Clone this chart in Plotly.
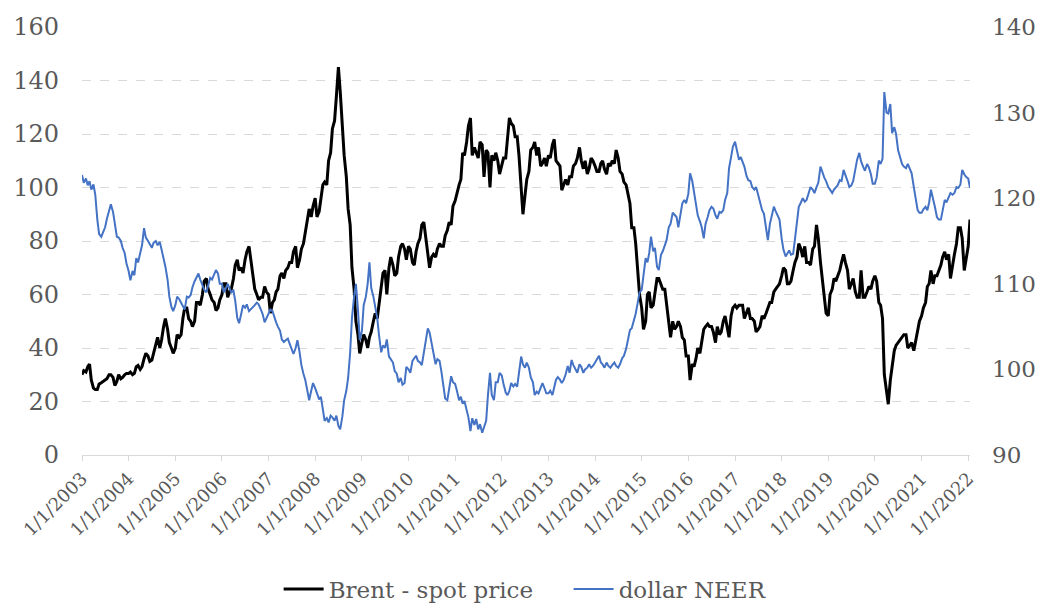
import plotly.graph_objects as go
from plotly.subplots import make_subplots
import pandas as pd

# semi-monthly readings (1st and 15th), Jan 2003 - Jan 2022
dates = pd.date_range("2003-01-01", "2022-01-15", freq="SMS")

brent = [
    30, 31.5, 31, 33, 34, 28, 25, 24.5, 24.5, 26.5, 27, 27.5, 28, 28.5, 30, 30, 29, 26, 27.5, 30, 28.5, 29, 30, 30.5,
    30.5, 31, 30, 30.5, 33, 33.5, 32, 33, 36, 38, 37, 35, 35.5, 38.5, 42, 44, 40, 43, 48, 51, 47, 42, 40, 38,
    40, 45, 44, 45, 51, 55, 55, 51, 50, 48, 50, 57, 57, 56, 60, 65, 66, 62, 60, 58, 57, 54, 55, 58,
    60, 64, 64, 59, 61, 62, 66, 71, 73, 69, 70, 68, 73, 76, 78, 73, 68, 62, 60, 58, 59, 59, 63, 61,
    60, 53, 57, 58, 61, 62, 67, 68, 66, 69, 70, 72, 72, 76, 78, 70, 73, 77, 79, 83, 88, 92, 89, 93,
    96, 89, 91, 96, 101, 102, 101, 110, 113, 122, 125, 134, 145, 136, 122, 112, 104, 92, 86, 70, 62, 50, 45, 38,
    42, 45, 43, 40, 44, 46, 50, 53, 51, 57, 62, 68, 69, 60, 70, 74, 71, 67, 68, 74, 78, 79, 77, 73,
    78, 77, 72, 71, 76, 79, 81, 86, 87, 82, 75, 70, 74, 75, 74, 77, 79, 78, 78, 82, 84, 87, 86, 93,
    95, 98, 101, 103, 113, 112, 117, 123, 126, 112, 115, 113, 111, 117, 116, 104, 114, 113, 100, 112, 110, 113, 110, 105,
    108, 111, 111, 118, 126, 124, 123, 119, 119, 112, 100, 90, 97, 103, 106, 114, 115, 117, 112, 115, 108, 109, 111, 108,
    112, 111, 116, 118, 110, 109, 108, 99, 101, 103, 101, 104, 104, 108, 109, 111, 115, 110, 107, 110, 105, 107, 111, 110,
    108, 106, 106, 109, 110, 107, 105, 109, 108, 110, 109, 114, 111, 106, 105, 102, 101, 97, 94, 85, 85, 79, 70, 60,
    55, 47, 50, 60, 61, 55, 56, 61, 66, 66, 64, 62, 62, 57, 51, 44, 50, 47, 48, 50, 48, 44, 43, 37,
    37, 28, 34, 33, 36, 40, 38, 43, 47, 48, 49, 48, 48, 46, 42, 48, 45, 46, 50, 52, 47, 44, 52, 55,
    56, 55, 56, 56, 56, 51, 53, 55, 51, 51, 50, 46, 47, 48, 52, 51, 53, 55, 57, 57, 61, 62, 63, 64,
    67, 70, 69, 64, 64, 65, 69, 72, 74, 79, 77, 74, 78, 72, 72, 71, 77, 78, 86, 81, 72, 66, 59, 53,
    52, 60, 62, 66, 65, 67, 69, 72, 75, 72, 69, 62, 64, 66, 61, 59, 59, 69, 59, 59, 61, 63, 62, 65,
    67, 65, 57, 56, 51, 30, 24, 19, 28, 34, 39, 41, 42, 43, 44, 45, 45, 40, 41, 42, 39, 43, 47, 50,
    52, 55, 57, 63, 64, 69, 64, 67, 67, 69, 71, 74, 76, 73, 75, 66, 72, 75, 79, 85, 85, 81, 69, 74,
    78, 88,
]

neer = [
    122.7, 121.8, 122.3, 121.5, 122.0, 121.0, 121.6, 120.4, 117.5, 115.8, 115.5, 116.0, 116.6, 117.6, 118.5, 119.3, 118.4, 116.8, 115.5, 115.4, 115.0, 114.2, 113.6, 112.4,
    111.5, 110.4, 111.5, 111.0, 113.0, 112.5, 113.8, 114.5, 116.5, 115.4, 115.0, 114.6, 114.2, 114.8, 115.0, 114.5, 114.9, 114.0, 113.0, 112.0, 110.5, 108.5, 107.3, 106.8,
    107.5, 108.5, 108.2, 107.8, 107.3, 107.0, 108.5, 108.4, 108.7, 109.6, 110.3, 110.8, 111.2, 110.5, 109.8, 109.3, 109.0, 109.8, 110.7, 110.5, 111.0, 111.6, 111.2, 110.0,
    110.0, 109.0, 109.5, 110.0, 109.5, 109.0, 109.2, 108.0, 106.0, 105.4, 106.5, 107.5, 107.2, 107.6, 106.8, 107.0, 107.3, 107.5, 107.8, 107.6, 107.0, 106.5, 105.5, 106.0,
    106.6, 107.0, 106.8, 106.0, 105.5, 105.0, 104.5, 103.5, 103.2, 103.4, 103.6, 103.0, 102.2, 101.8, 102.5, 103.4, 102.0, 100.5, 99.5, 98.8, 97.5, 96.4, 97.5, 98.4,
    97.8, 97.2, 96.5, 96.8, 95.2, 94.0, 94.3, 93.8, 94.6, 94.4, 94.0, 94.6, 93.4, 93.0, 94.5, 96.4, 97.5, 99.0, 102.0, 106.0, 108.5, 110.0, 107.0, 103.4,
    104.5, 107.5, 108.5, 110.0, 112.5, 109.5, 108.5, 107.5, 106.0, 104.0, 102.0, 102.8, 102.5, 103.5, 101.5, 101.2, 100.8, 99.8, 99.5, 98.5, 99.0, 98.2, 98.4, 100.3,
    100.0, 99.6, 101.0, 101.3, 101.6, 101.0, 100.8, 100.5, 102.0, 103.6, 104.8, 104.3, 103.0, 102.0, 100.6, 101.2, 101.0, 99.8, 98.0, 96.6, 96.4, 98.0, 99.2, 98.5,
    98.3, 97.5, 96.4, 96.8, 96.0, 96.3, 95.2, 94.4, 92.8, 94.3, 93.5, 94.2, 93.0, 93.6, 92.6, 93.2, 94.0, 97.0, 99.6, 97.0, 96.4, 98.5, 98.5, 99.6,
    99.3, 98.3, 97.3, 97.0, 97.5, 98.4, 98.0, 98.3, 98.0, 99.6, 101.5, 100.6, 100.2, 100.8, 100.2, 99.1, 98.5, 97.0, 97.4, 97.2, 98.0, 98.4, 97.8, 97.2,
    97.2, 97.5, 97.0, 97.8, 98.8, 99.1, 98.8, 98.4, 98.8, 99.4, 100.4, 99.6, 101.1, 100.5, 100.0, 99.6, 100.6, 100.3, 99.6, 100.0, 100.2, 100.6, 100.2, 100.4,
    100.8, 101.2, 101.6, 100.8, 100.6, 100.2, 100.8, 100.4, 100.2, 100.5, 100.8, 100.4, 100.2, 100.6, 101.3, 101.6, 102.4, 103.4, 104.6, 104.8, 105.8, 106.5, 107.8, 109.0,
    109.3, 111.0, 113.0, 112.5, 113.6, 115.5, 113.8, 114.2, 112.0, 111.6, 113.4, 113.8, 114.5, 115.1, 116.6, 117.0, 118.3, 118.0, 117.8, 116.6, 118.3, 119.4, 119.8, 119.4,
    120.5, 122.9, 122.0, 120.6, 119.5, 118.0, 117.3, 116.6, 115.3, 117.0, 117.8, 118.6, 119.0, 118.8, 118.0, 117.6, 118.4, 118.3, 118.6, 119.8, 120.6, 123.5, 124.8, 126.0,
    126.6, 125.5, 124.5, 124.8, 124.2, 123.7, 122.6, 122.1, 122.0, 121.3, 121.0, 121.3, 120.4, 119.4, 118.6, 118.2, 116.5, 115.1, 117.0, 118.0, 119.0, 118.5, 118.0, 117.5,
    115.3, 114.0, 113.2, 113.6, 113.9, 113.4, 113.5, 115.2, 117.0, 119.0, 119.5, 120.0, 119.6, 119.8, 120.6, 121.3, 121.0, 120.6, 121.3, 121.8, 123.7, 123.0, 122.4, 122.0,
    121.3, 121.0, 120.6, 121.0, 121.3, 121.5, 122.1, 122.0, 123.3, 122.8, 122.0, 121.3, 121.5, 122.0, 123.5, 124.5, 125.3, 124.3, 123.7, 123.2, 124.0, 123.6, 122.8, 121.7,
    121.7, 122.4, 124.4, 124.0, 124.6, 132.4, 130.0, 129.9, 131.0, 127.6, 128.3, 127.5, 125.6, 125.0, 124.0, 123.7, 123.5, 124.0, 123.3, 122.9, 121.3, 119.8, 118.6, 118.3,
    118.3, 118.7, 119.0, 118.6, 119.5, 121.0, 120.0, 119.0, 117.8, 117.5, 117.5, 118.6, 119.8, 119.5, 120.2, 120.6, 120.4, 120.6, 121.3, 121.2, 121.6, 123.3, 122.8, 122.5,
    122.3, 121.2,
]

font_family = "DejaVu Serif"
grey = "#595959"

fig = make_subplots(specs=[[{"secondary_y": True}]])

fig.add_trace(
    go.Scatter(x=dates, y=brent, name="Brent - spot price", mode="lines",
               line=dict(color="#000000", width=3)),
    secondary_y=False,
)
fig.add_trace(
    go.Scatter(x=dates, y=neer, name="dollar NEER", mode="lines",
               line=dict(color="#4472C4", width=2)),
    secondary_y=True,
)

fig.update_xaxes(
    type="date",
    domain=[0, 1],
    range=["2003-01-01", "2022-01-15"],
    tick0="2003-01-01",
    dtick="M12",
    tickformat="%-m/%-d/%Y",
    tickangle=-45,
    tickfont=dict(family=font_family, size=18, color=grey),
    showgrid=False,
    showline=True,
    linecolor="#d9d9d9",
    linewidth=1,
    ticks="outside",
    ticklen=5,
    tickcolor="#d9d9d9",
    automargin=False,
)

fig.update_yaxes(
    range=[0, 160], dtick=20,
    showgrid=True, gridcolor="#d9d9d9", griddash="dash", gridwidth=1,
    zeroline=False, showline=False,
    tickfont=dict(family=font_family, size=24, color=grey),
    ticklabelstandoff=22,
    automargin=False,
    secondary_y=False,
)
fig.update_yaxes(
    range=[90, 140], dtick=10,
    showgrid=False, zeroline=False, showline=False,
    tickfont=dict(family=font_family, size=23, color=grey),
    ticklabelstandoff=21,
    automargin=False,
    secondary_y=True,
)

# page body has an 8px margin, so the figure is offset by 8px
fig.update_layout(
    width=1029,
    height=596,
    autosize=False,
    margin=dict(l=74, r=67, t=19, b=149, autoexpand=False),
    plot_bgcolor="white",
    paper_bgcolor="white",
    showlegend=True,
    legend=dict(
        orientation="h",
        x=0.263, xanchor="left", xref="container",
        y=0.025, yanchor="middle", yref="container",
        font=dict(family=font_family, size=23, color=grey),
        itemwidth=40,
        entrywidth=235,
    ),
)

fig.write_html("out.html")
